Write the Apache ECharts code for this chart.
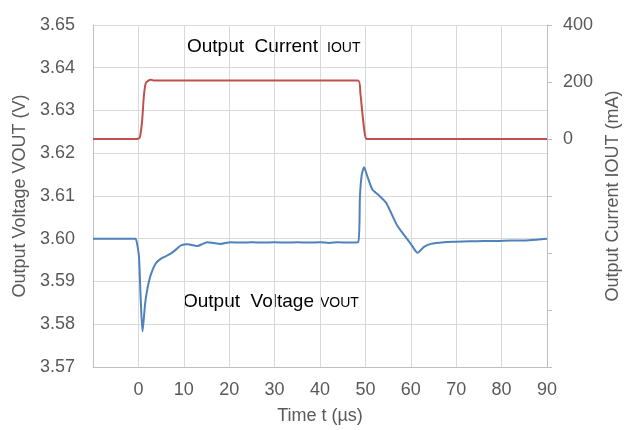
<!DOCTYPE html>
<html>
<head>
<meta charset="utf-8">
<script src="https://cdn.jsdelivr.net/npm/echarts@6/dist/echarts.min.js"></script>
<style>
html,body{margin:0;padding:0;background:#fff;}
#chart{width:631px;height:430px;}
</style>
</head>
<body>
<div id="chart"></div>
<script>
// Time axis (µs)
var xTicks = [-10, 0, 10, 20, 30, 40, 50, 60, 70, 80, 90];
// Voltage trace
var timeV = [-10, -5, -1, -0.6, 0.1, 0.5, 0.9, 1.5, 2.0, 2.7, 3.8, 4.9, 6.0, 7.1, 8.2, 9.3, 10.8, 12.0, 13.0, 14.2, 15.2, 16.6, 18.1, 20.3, 22.5, 25, 27.5, 30, 32.5, 35, 37.5, 40, 42, 44, 46, 48.4, 48.8, 49.2, 49.7, 50.4, 51.5, 53.0, 54.5, 55.6, 57.0, 58.5, 60.0, 61.5, 62.9, 64.4, 67.3, 70, 73, 76, 79, 82, 85, 88, 90];
var voltV = [3.6000, 3.6000, 3.6000, 3.6000, 3.5961, 3.5860, 3.5783, 3.5850, 3.5884, 3.5915, 3.5942, 3.5953, 3.5959, 3.5965, 3.5974, 3.5984, 3.5987, 3.5985, 3.5983, 3.5988, 3.5992, 3.5990, 3.5988, 3.5992, 3.5991, 3.5992, 3.5991, 3.5992, 3.5991, 3.5992, 3.5991, 3.5992, 3.5990, 3.5992, 3.5991, 3.5992, 3.6100, 3.6150, 3.6167, 3.6147, 3.6116, 3.6101, 3.6085, 3.6062, 3.6031, 3.6009, 3.5988, 3.5967, 3.5981, 3.5988, 3.5992, 3.5993, 3.5994, 3.5995, 3.5995, 3.5996, 3.5996, 3.5998, 3.6000];
// Current trace (mA)
var timeI = [-10, -0.3, 0.3, 0.8, 1.2, 1.6, 2.2, 2.8, 3.4, 20, 48.4, 48.9, 49.4, 49.9, 50.3, 60, 90];
var currI = [0, 0, 5, 60, 150, 195, 205, 208, 205, 205, 205, 160, 80, 15, 0, 0, 0];
// Tick labels
var vTicks = ['3.57', '3.58', '3.59', '3.60', '3.61', '3.62', '3.63', '3.64', '3.65'];
var iTicks = ['0', '200', '400'];

function pairs(xs, ys) { return xs.map(function (x, i) { return [x, ys[i]]; }); }

var FONT = '"Liberation Sans", Arial, sans-serif';
var GRAY = '#595959';
var chart = echarts.init(document.getElementById('chart'), null, {renderer: 'canvas'});
function txt(left, top, text, size) {
  return {type: 'text', left: left, top: top,
    style: {text: text, fontSize: size, fontFamily: FONT, fill: '#000000'}};
}
chart.setOption({
  animation: false,
  backgroundColor: '#ffffff',
  grid: {left: 93, right: 84, top: 25, bottom: 61, containLabel: false},
  xAxis: {
    type: 'value', min: xTicks[0], max: xTicks[xTicks.length - 1], interval: 10,
    name: 'Time t (µs)', nameLocation: 'middle', nameGap: 40,
    nameTextStyle: {color: GRAY, fontSize: 18, fontFamily: FONT},
    axisLine: {show: true, onZero: false, lineStyle: {color: '#bfbfbf', width: 1}},
    axisTick: {show: false},
    splitLine: {show: true, lineStyle: {color: '#d9d9d9', width: 1}},
    axisLabel: {
      color: GRAY, fontSize: 18, fontFamily: FONT, margin: 14,
      formatter: function (v) { return xTicks.indexOf(v) > 0 ? String(v) : ''; }
    }
  },
  yAxis: [{
    type: 'value', min: 3.57, max: 3.65, interval: 0.01, position: 'left',
    name: 'Output Voltage VOUT (V)', nameLocation: 'middle', nameGap: 63, nameRotate: 90,
    nameTextStyle: {color: GRAY, fontSize: 18, fontFamily: FONT},
    axisLine: {show: true, onZero: false, lineStyle: {color: '#bfbfbf', width: 1}},
    axisTick: {show: false},
    splitLine: {show: true, lineStyle: {color: '#d9d9d9', width: 1}},
    axisLabel: {
      color: GRAY, fontSize: 18, fontFamily: FONT, margin: 18,
      formatter: function (v) {
        var s = v.toFixed(2);
        return vTicks.indexOf(s) >= 0 ? s : '';
      }
    }
  }, {
    type: 'value', min: -800, max: 400, interval: 200, position: 'right',
    name: 'Output Current IOUT (mA)', nameLocation: 'middle', nameGap: 57, nameRotate: 90,
    nameTextStyle: {color: GRAY, fontSize: 18, fontFamily: FONT},
    axisLine: {show: true, onZero: false, lineStyle: {color: '#bfbfbf', width: 1}},
    axisTick: {show: true, inside: false, length: 5, lineStyle: {color: '#bfbfbf'}},
    splitLine: {show: false},
    axisLabel: {
      color: GRAY, fontSize: 18, fontFamily: FONT, margin: 16,
      formatter: function (v) { var s = String(v); return iTicks.indexOf(s) >= 0 ? s : ''; }
    }
  }],
  graphic: [
    txt(187, 37, 'Output  Current', 19),
    txt(327, 41, 'IOUT', 14),
    txt(183, 292, 'Output  Voltage', 19),
    txt(320, 296, 'VOUT', 14)
  ],
  series: [{
    name: 'Current', type: 'line', yAxisIndex: 1, showSymbol: false, symbol: 'none',
    smooth: 0.2, data: pairs(timeI, currI),
    lineStyle: {color: '#C0504D', width: 2}
  }, {
    name: 'Voltage', type: 'line', yAxisIndex: 0, showSymbol: false, symbol: 'none',
    smooth: 0.2, data: pairs(timeV, voltV),
    lineStyle: {color: '#4F81BD', width: 2}
  }]
});
</script>
</body>
</html>
